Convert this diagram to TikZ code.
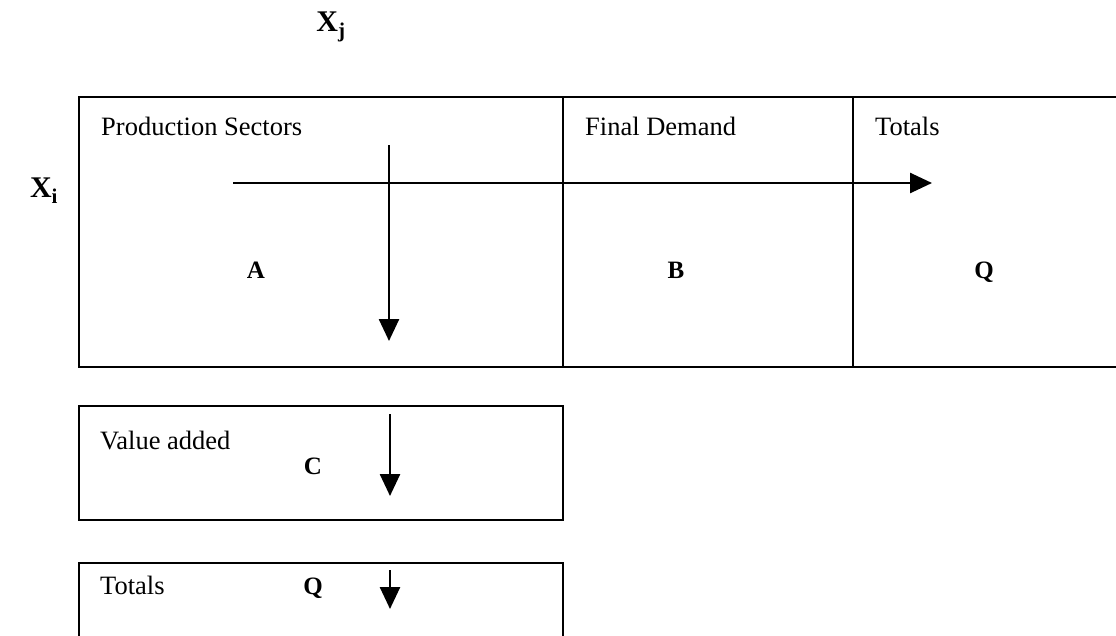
\documentclass[tikz,border=0pt]{standalone}
\usepackage{fontspec}
\setmainfont{Liberation Serif}
\usetikzlibrary{arrows.meta}
\begin{document}
\begin{tikzpicture}[x=1pt,y=-1pt,
  box/.style={draw,line width=2.6pt},
  lbl/.style={inner sep=0pt,anchor=base west,font=\fontsize{26.5}{30}\selectfont},
  ctr/.style={inner sep=0pt,anchor=base,font=\fontsize{25}{30}\selectfont\bfseries},
  big/.style={inner sep=0pt,anchor=base,font=\fontsize{30}{34}\selectfont\bfseries},
  flow/.style={line width=2.6pt,-{Triangle[length=22pt,width=20pt]}}]
\useasboundingbox (0,0) rectangle (1116,635);
\clip (0,0) rectangle (1116,635);
% main table
\draw[box] (79,97) rectangle (1130,367);
\draw[box] (563,97) -- (563,367);
\draw[box] (853,97) -- (853,367);
% value added box
\draw[box] (79,406) rectangle (563,520);
% totals box
\draw[box] (79,563) rectangle (563,645);
% labels
\node[big] (xj) at (331,31) {X\textsubscript{j}};
\node[big] (xi) at (44,197) {X\textsubscript{i}};
\node[lbl] (ps) at (101,135) {Production Sectors};
\node[lbl] (fd) at (585,135) {Final Demand};
\node[lbl] (tt) at (875,135) {Totals};
\node[ctr] (a) at (256,278) {A};
\node[ctr] (b) at (676,278) {B};
\node[ctr] (q) at (984,278) {Q};
\node[lbl] (va) at (100,449) {Value added};
\node[ctr] (c) at (313,474) {C};
\node[lbl] (tb) at (100,594) {Totals};
\node[ctr] (q2) at (313,594) {Q};
% arrows
\coordinate (h1) at (233,183);
\coordinate (h2) at (932,183);
\coordinate (v1) at (389,145);
\coordinate (v2) at (389,341);
\coordinate (c1) at (390,414);
\coordinate (c2) at (390,496);
\coordinate (t1) at (390,570);
\coordinate (t2) at (390,609);
\draw[flow] (h1) -- (h2);
\draw[flow] (v1) -- (v2);
\draw[flow] (c1) -- (c2);
\draw[flow] (t1) -- (t2);
\end{tikzpicture}
\end{document}
